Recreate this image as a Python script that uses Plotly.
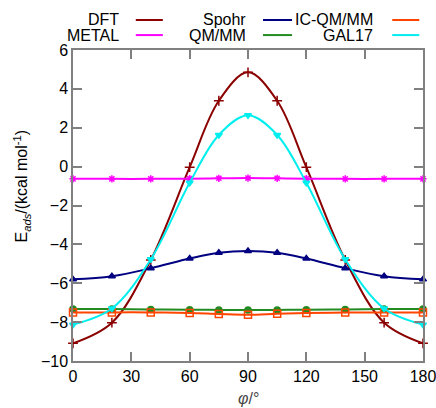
import plotly.graph_objects as go

phi = [0, 20, 40, 60, 75, 90, 105, 120, 140, 160, 180]

dft = [-9.09, -8.03, -4.8, -0.03, 3.39, 4.85, 3.39, -0.03, -4.8, -8.03, -9.09]
metal = [-0.63, -0.63, -0.63, -0.62, -0.60, -0.59, -0.60, -0.62, -0.63, -0.63, -0.63]
spohr = [-5.8, -5.64, -5.23, -4.73, -4.43, -4.34, -4.43, -4.73, -5.23, -5.64, -5.8]
qmmm = [-7.33, -7.33, -7.35, -7.36, -7.37, -7.37, -7.37, -7.36, -7.35, -7.33, -7.33]
icqmmm = [-7.5, -7.5, -7.5, -7.53, -7.58, -7.62, -7.57, -7.53, -7.51, -7.5, -7.5]
gal17 = [-8.13, -7.3, -4.77, -0.83, 1.63, 2.64, 1.63, -0.83, -4.77, -7.3, -8.13]

x_ticks = [0, 30, 60, 90, 120, 150, 180]
y_ticks = [-10, -8, -6, -4, -2, 0, 2, 4, 6]

series = [
    ("DFT", dft, "#8b0000", "cross-thin-open", 7),
    ("METAL", metal, "#ff00ff", "asterisk-open", 6),
    ("Spohr", spohr, "#000080", "triangle-up", 6),
    ("QM/MM", qmmm, "#228b22", "circle", 6),
    ("IC-QM/MM", icqmmm, "#ff4500", "square-open", 7),
    ("GAL17", gal17, "#00eeee", "triangle-down", 6),
]

FONT = "Liberation Sans, Arial, sans-serif"
fig = go.Figure()
for name, ys, color, sym, size in series:
    fig.add_trace(go.Scatter(
        x=phi, y=ys, mode="lines+markers", name=name,
        line=dict(color=color, width=2, shape="spline", smoothing=1.0),
        marker=dict(symbol=sym, size=size, color=color,
                    line=dict(color=color, width=1.5)),
        cliponaxis=False, showlegend=False))

# manual gnuplot-style legend (text left of sample line)
legend_layout = [
    ("DFT", "#8b0000", 0.1365, 0.1794, 0.2567, 1.0965),
    ("METAL", "#ff00ff", 0.1365, 0.1794, 0.2567, 1.048),
    ("Spohr", "#000080", 0.5009, 0.5429, 0.6259, 1.0965),
    ("QM/MM", "#228b22", 0.5009, 0.5429, 0.6259, 1.048),
    ("IC-QM/MM", "#ff4500", 0.8635, 0.9121, 0.9894, 1.0965),
    ("GAL17", "#00eeee", 0.8635, 0.9121, 0.9894, 1.048),
]
for name, color, tx, lx0, lx1, ly in legend_layout:
    fig.add_annotation(text=name, x=tx, y=ly, xref="paper", yref="paper",
                       xanchor="right", yanchor="middle", showarrow=False,
                       font=dict(size=16, color="black", family=FONT))
    fig.add_shape(type="line", xref="paper", yref="paper",
                  x0=lx0, x1=lx1, y0=ly, y1=ly,
                  line=dict(color=color, width=2))

fig.add_annotation(text="E<sub><i>ads</i></sub>/(kcal mol<sup>-1</sup>)",
                   x=-0.147, y=0.56, xref="paper", yref="paper",
                   textangle=-90, showarrow=False, xanchor="center", yanchor="middle",
                   font=dict(size=16, color="black", family=FONT))
fig.add_annotation(text="<i>φ</i>/°", x=0.5, y=-0.12, xref="paper", yref="paper",
                   showarrow=False, xanchor="center", yanchor="middle",
                   font=dict(size=16, color="#444444", family=FONT))

axis_common = dict(showgrid=False, zeroline=False, showline=True, linecolor="#808080",
                   linewidth=1.5, ticks="inside", ticklen=9, tickcolor="#808080",
                   tickwidth=1.5, mirror="ticks", automargin=False,
                   ticklabeloverflow="allow",
                   tickfont=dict(size=16, color="black", family=FONT))
fig.update_xaxes(range=[0, 180], tickvals=x_ticks, **axis_common)
fig.update_yaxes(range=[-10, 6], tickvals=y_ticks, **axis_common)

fig.update_layout(width=436, height=408, margin=dict(l=73, r=13, t=50, b=47),
                  plot_bgcolor="white", paper_bgcolor="white",
                  font=dict(family=FONT, size=16, color="black"))

fig.write_html("out.html", config={"displayModeBar": False},
               post_script="document.body.style.margin='0';")
